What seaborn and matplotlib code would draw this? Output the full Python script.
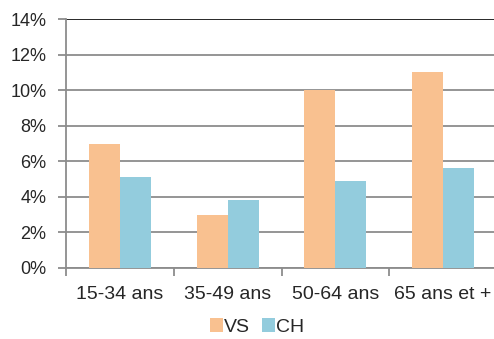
import pandas as pd
import matplotlib
matplotlib.use('Agg')
import matplotlib.pyplot as plt
import seaborn as sns
from matplotlib.ticker import FixedLocator, PercentFormatter

# Data (percent)
groups = ['15-34 ans', '35-49 ans', '50-64 ans', '65 ans et +']
vs_values = [7.0, 3.0, 10.0, 11.0]
ch_values = [5.1, 3.8, 4.9, 5.65]
series = ['VS', 'CH']
colors = ['#F9C190', '#93CCDD']

df = pd.DataFrame({
    'group': groups * 2,
    'value': vs_values + ch_values,
    'series': ['VS'] * len(groups) + ['CH'] * len(groups),
})

sns.set_style('white')
plt.rcParams['font.family'] = ['Liberation Sans', 'DejaVu Sans']

W, H = 494, 339
fig = plt.figure(figsize=(W / 100, H / 100), dpi=100)
ax = fig.add_axes([66 / W, 1 - 268 / H, 431 / W, (268 - 19) / H])

sns.barplot(data=df, x='group', y='value', hue='series', hue_order=series,
            palette=colors, width=0.576, saturation=1, ax=ax, zorder=3,
            edgecolor='none')

ax.set_ylim(0, 14)
ax.set_xlim(-0.5, 3.5)
ax.set_yticks(range(0, 15, 2))
ax.yaxis.set_major_formatter(PercentFormatter(decimals=0))
ax.grid(axis='y', color='#8c8c8c', linewidth=1.3, zorder=0)
ax.set_axisbelow(True)
ax.axhline(14, color='#222222', linewidth=1.3, zorder=1)

for side in ['top', 'right']:
    ax.spines[side].set_visible(False)
for side in ['left', 'bottom']:
    ax.spines[side].set_color('#8c8c8c')
    ax.spines[side].set_linewidth(1.3)

# category boundary ticks on the x axis
ax.xaxis.set_minor_locator(FixedLocator([-0.5, 0.5, 1.5, 2.5]))
ax.tick_params(axis='x', which='major', length=0, pad=13, labelsize=14)
ax.tick_params(axis='x', which='minor', length=6, width=1.3, color='#8c8c8c',
               direction='out', bottom=True)
ax.tick_params(axis='y', length=6, width=1.3, color='#8c8c8c', direction='out',
               left=True, labelsize=13, pad=8)
ax.set_xlabel('')
ax.set_ylabel('')

ax.legend(loc='center', bbox_to_anchor=(257 / W, 1 - 327 / H),
          bbox_transform=fig.transFigure, ncol=2, frameon=False,
          fontsize=14, handlelength=0.67, handleheight=0.7, handletextpad=0.05,
          columnspacing=0.6, borderaxespad=0, borderpad=0)

fig.savefig('out.png', dpi=100)
